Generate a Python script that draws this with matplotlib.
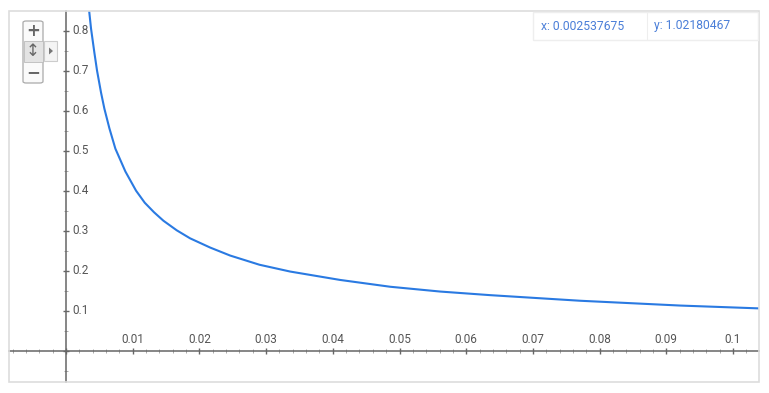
import matplotlib
matplotlib.use("Agg")
import matplotlib.pyplot as plt
from matplotlib.patches import Rectangle, FancyBboxPatch, Polygon
from matplotlib.ticker import MultipleLocator

# curve values
x_vals = [0.002537675, 0.0034, 0.00375, 0.00425, 0.00465, 0.00525, 0.00575, 0.0065,
          0.0074, 0.0089, 0.0105, 0.0118, 0.0132, 0.0146, 0.0166, 0.0186,
          0.0216, 0.0246, 0.0290, 0.0336, 0.0411, 0.0486, 0.0561, 0.0636,
          0.0771, 0.0921, 0.1038]
y_vals = [1.02180467, 0.86, 0.805, 0.745, 0.70, 0.645, 0.605, 0.556,
          0.505, 0.448, 0.40, 0.370, 0.346, 0.325, 0.301, 0.281,
          0.258, 0.238, 0.215, 0.198, 0.177, 0.160, 0.148, 0.139,
          0.125, 0.113, 0.106]

x_ticks = [-0.01, 0.01, 0.02, 0.03, 0.04, 0.05, 0.06, 0.07, 0.08, 0.09, 0.1]
x_labels = ["-0.01", "0.01", "0.02", "0.03", "0.04", "0.05", "0.06", "0.07", "0.08", "0.09", "0.1"]
y_ticks = [0.1, 0.2, 0.3, 0.4, 0.5, 0.6, 0.7, 0.8]
y_labels = ["0.1", "0.2", "0.3", "0.4", "0.5", "0.6", "0.7", "0.8"]

trace_x = "x: 0.002537675"
trace_y = "y: 1.02180467"

W, H = 769, 393
plt.rcParams['font.family'] = ['Roboto', 'DejaVu Sans']

fig = plt.figure(figsize=(W / 100, H / 100), dpi=100)


def fx(px):
    return px / W


def fy(py):
    return 1 - py / H


# plot area (pixels): x 9..759, y 11..382
ax = fig.add_axes([fx(9), fy(382), fx(759) - fx(9), fy(11) - fy(382)])
ax.set_xlim(-0.00855, 0.1039)
ax.set_ylim(-0.078, 0.849)

axis_col = '#666666'
text_col = '#555555'

for s in ['top', 'right']:
    ax.spines[s].set_visible(False)
ax.spines['left'].set_position(('data', 0))
ax.spines['bottom'].set_position(('data', 0))
ax.spines['left'].set_color(axis_col)
ax.spines['bottom'].set_color(axis_col)
ax.spines['left'].set_linewidth(1.1)
ax.spines['bottom'].set_linewidth(1.1)

ax.xaxis.set_major_locator(MultipleLocator(0.01))
ax.xaxis.set_minor_locator(MultipleLocator(0.002))
ax.yaxis.set_major_locator(MultipleLocator(0.1))
ax.yaxis.set_minor_locator(MultipleLocator(0.05))
ax.tick_params(which='major', direction='inout', length=4.5, width=1.0, color=axis_col,
               labelbottom=False, labelleft=False)
ax.tick_params(which='minor', direction='inout', length=3, width=0.7, color='#aaaaaa')

ax.plot(x_vals, y_vals, color='#2a7ae2', linewidth=1.5, zorder=3,
        solid_joinstyle='round')

for xv, lbl in zip(x_ticks, x_labels):
    ax.annotate(lbl, (xv, 0), xytext=(0, 3.2), textcoords='offset points',
                ha='center', va='bottom', fontsize=8.5, color=text_col,
                annotation_clip=False, clip_on=True)
for yv, lbl in zip(y_ticks, y_labels):
    ax.annotate(lbl, (0, yv), xytext=(4.5, 0), textcoords='offset points',
                ha='left', va='center', fontsize=8.5, color=text_col, clip_on=True)

# outer frame
fig.add_artist(Rectangle((fx(8.5), fy(382)), fx(759) - fx(8.5), fy(11) - fy(382),
                         transform=fig.transFigure, fill=False, edgecolor='#dddddd',
                         linewidth=1.2, zorder=5))

# zoom control widget
fig.add_artist(Polygon([(fx(44), fy(41)), (fx(57), fy(41)), (fx(57), fy(61)), (fx(44), fy(61))],
                       closed=True, transform=fig.transFigure, facecolor='#f4f4f4',
                       edgecolor='#cccccc', linewidth=0.8, zorder=6))
fig.add_artist(Polygon([(fx(49), fy(47.5)), (fx(49), fy(54.5)), (fx(53), fy(51))],
                       closed=True, transform=fig.transFigure, facecolor='#777777',
                       edgecolor='none', zorder=7))
fig.add_artist(FancyBboxPatch((fx(23), fy(83)), fx(43) - fx(23), fy(21) - fy(83),
                              boxstyle='round,pad=0,rounding_size=0.004',
                              transform=fig.transFigure, facecolor='#fafafa',
                              edgecolor='#aaaaaa', linewidth=0.9, zorder=6))
fig.add_artist(Rectangle((fx(23.5), fy(62)), fx(42.5) - fx(23.5), fy(41) - fy(62),
                         transform=fig.transFigure, facecolor='#e3e3e3',
                         edgecolor='#bbbbbb', linewidth=0.6, zorder=7))
fig.text(fx(33), fy(31), '+', ha='center', va='center', fontsize=12, color='#666666',
         fontweight='bold', zorder=8, family='DejaVu Sans')
fig.text(fx(33), fy(51.5), '\u2195', ha='center', va='center', fontsize=12, color='#666666',
         zorder=8, family='DejaVu Sans')
fig.text(fx(33), fy(72), '\u2212', ha='center', va='center', fontsize=12, color='#666666',
         fontweight='bold', zorder=8, family='DejaVu Sans')

# trace readout
fig.add_artist(Rectangle((fx(533), fy(40)), fx(758) - fx(533), fy(12) - fy(40),
                         transform=fig.transFigure, facecolor='white', edgecolor='#eeeeee',
                         linewidth=1.0, zorder=6))
fig.add_artist(Rectangle((fx(647), fy(40)), 0.0001, fy(12) - fy(40),
                         transform=fig.transFigure, facecolor='#eeeeee', edgecolor='#eeeeee',
                         linewidth=0.8, zorder=7))
fig.text(fx(541), fy(26), trace_x, ha='left', va='center', fontsize=8.7, color='#4a7ed8', zorder=8)
fig.text(fx(654), fy(26), trace_y, ha='left', va='center', fontsize=8.7, color='#4a7ed8', zorder=8)

fig.savefig('out.png', dpi=100)
